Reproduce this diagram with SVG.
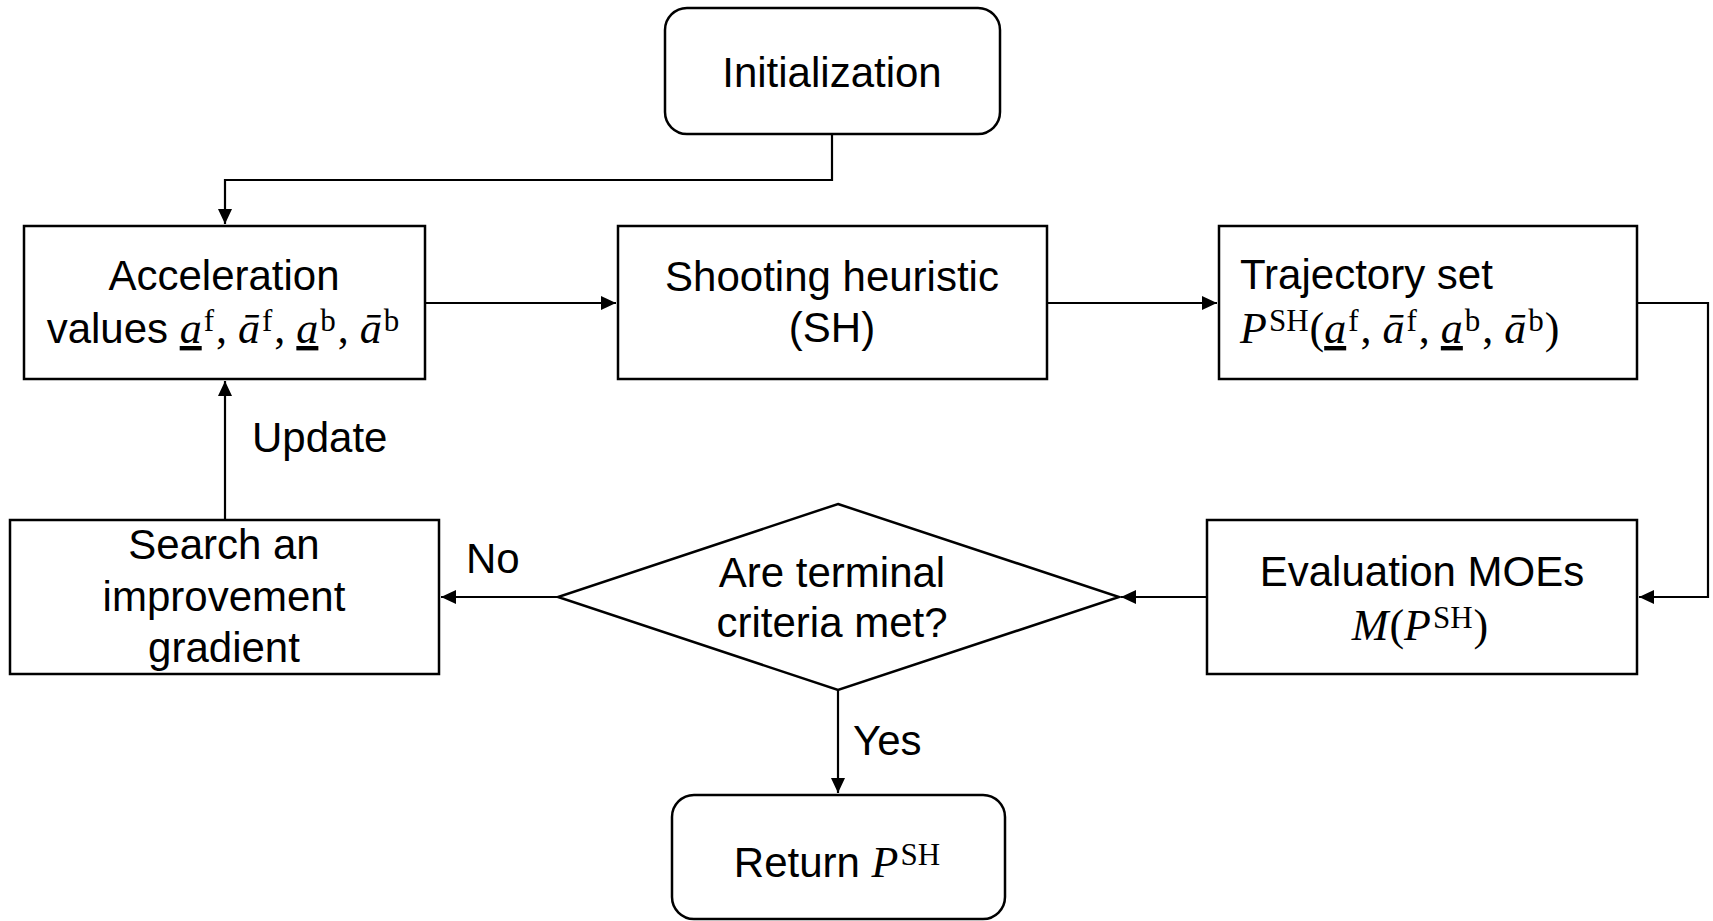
<svg xmlns="http://www.w3.org/2000/svg" width="1713" height="921" viewBox="0 0 1713 921">
<style>
.box{fill:#fff;stroke:#000;stroke-width:2.5}
.con{fill:none;stroke:#000;stroke-width:2.2}
.t{font-family:"Liberation Sans",Arial,sans-serif;font-size:42px;fill:#000}
.m{font-family:"Liberation Serif","Times New Roman",serif;font-style:italic;font-size:44px}
.r{font-family:"Liberation Serif","Times New Roman",serif;font-style:normal;font-size:44px}
.s{font-family:"Liberation Serif","Times New Roman",serif;font-style:normal;font-size:31px}
</style>
<defs>
<marker id="arr" markerUnits="userSpaceOnUse" markerWidth="16" markerHeight="14" refX="15" refY="7" orient="auto">
<path d="M0,0 L15,7 L0,14 z" fill="#000"/>
</marker>
</defs>
<rect width="1713" height="921" fill="#fff"/>
<g id="connectors">
<path class="con" d="M832,134 V180 H225 V224" marker-end="url(#arr)"/>
<path class="con" d="M425,303 H616" marker-end="url(#arr)"/>
<path class="con" d="M1047,303 H1217" marker-end="url(#arr)"/>
<path class="con" d="M1637,303 H1708 V597 H1639" marker-end="url(#arr)"/>
<path class="con" d="M1207,597 H1121" marker-end="url(#arr)"/>
<path class="con" d="M558,597 H441" marker-end="url(#arr)"/>
<path class="con" d="M225,520 V381" marker-end="url(#arr)"/>
<path class="con" d="M838,690 V793" marker-end="url(#arr)"/>
<text class="t" x="252" y="452">Update</text>
<text class="t" x="466" y="573">No</text>
<text class="t" x="853" y="755">Yes</text>
</g>
<g id="init">
<rect class="box" x="665" y="8" width="335" height="126" rx="22"/>
<text class="t" x="832" y="87" text-anchor="middle">Initialization</text>
</g>
<g id="accel">
<rect class="box" x="24" y="226" width="401" height="153"/>
<text class="t" x="224" y="290" text-anchor="middle">Acceleration</text>
<text class="t" x="223" y="343" text-anchor="middle">values <tspan class="m" text-decoration="underline">a</tspan><tspan class="s" dx="2" dy="-12">f</tspan><tspan class="r" dx="2" dy="12">, </tspan><tspan class="m">ā</tspan><tspan class="s" dx="2" dy="-12">f</tspan><tspan class="r" dx="2" dy="12">, </tspan><tspan class="m" text-decoration="underline">a</tspan><tspan class="s" dx="2" dy="-12">b</tspan><tspan class="r" dx="2" dy="12">, </tspan><tspan class="m">ā</tspan><tspan class="s" dx="2" dy="-12">b</tspan></text>
</g>
<g id="shooting">
<rect class="box" x="618" y="226" width="429" height="153"/>
<text class="t" x="832" y="291" text-anchor="middle">Shooting heuristic</text>
<text class="t" x="832" y="342" text-anchor="middle">(SH)</text>
</g>
<g id="trajectory">
<rect class="box" x="1219" y="226" width="418" height="153"/>
<text class="t" x="1240" y="289">Trajectory set</text>
<text class="r" x="1240" y="343"><tspan class="m">P</tspan><tspan class="s" dx="2" dy="-12">SH</tspan><tspan class="r" dx="1" dy="12">(</tspan><tspan class="m" text-decoration="underline">a</tspan><tspan class="s" dx="2" dy="-12">f</tspan><tspan class="r" dx="2" dy="12">, </tspan><tspan class="m">ā</tspan><tspan class="s" dx="2" dy="-12">f</tspan><tspan class="r" dx="2" dy="12">, </tspan><tspan class="m" text-decoration="underline">a</tspan><tspan class="s" dx="2" dy="-12">b</tspan><tspan class="r" dx="2" dy="12">, </tspan><tspan class="m">ā</tspan><tspan class="s" dx="2" dy="-12">b</tspan><tspan class="r" dx="1" dy="12">)</tspan></text>
</g>
<g id="evaluation">
<rect class="box" x="1207" y="520" width="430" height="154"/>
<text class="t" x="1422" y="586" text-anchor="middle">Evaluation MOEs</text>
<text class="r" x="1420" y="640" text-anchor="middle"><tspan class="m">M</tspan><tspan class="r" dx="1">(</tspan><tspan class="m">P</tspan><tspan class="s" dx="2" dy="-12">SH</tspan><tspan class="r" dx="1" dy="12">)</tspan></text>
</g>
<g id="decision">
<path class="box" d="M838,504 L1119,597 L838,690 L558,597 Z"/>
<text class="t" x="832" y="587" text-anchor="middle">Are terminal</text>
<text class="t" x="832" y="637" text-anchor="middle">criteria met?</text>
</g>
<g id="search">
<rect class="box" x="10" y="520" width="429" height="154"/>
<text class="t" x="224" y="559" text-anchor="middle">Search an</text>
<text class="t" x="224" y="611" text-anchor="middle">improvement</text>
<text class="t" x="224" y="662" text-anchor="middle">gradient</text>
</g>
<g id="return">
<rect class="box" x="672" y="795" width="333" height="124" rx="22"/>
<text class="t" x="837" y="877" text-anchor="middle">Return <tspan class="m">P</tspan><tspan class="s" dx="2" dy="-12">SH</tspan></text>
</g>
</svg>
